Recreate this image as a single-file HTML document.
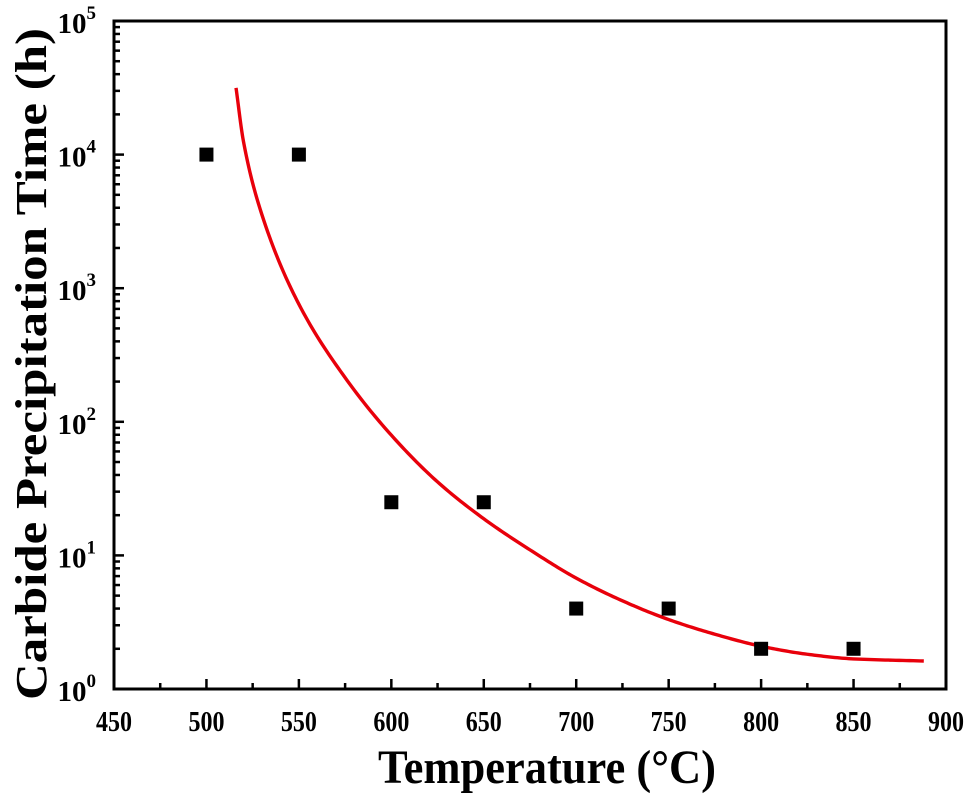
<!DOCTYPE html>
<html><head><meta charset="utf-8"><style>
html,body{margin:0;padding:0;background:#fff;}
svg{display:block;font-family:"Liberation Serif",serif;font-weight:bold;}
</style></head><body>
<svg id="chart" width="974" height="795" viewBox="0 0 974 795"></svg>
<script>
const xTicks=[450,500,550,600,650,700,750,800,850,900];
const yDecades=[0,1,2,3,4,5];
const pointT=[500,550,600,650,700,750,800,850];
const pointH=[10000,10000,25,25,4,4,2,2];
const fitT=[516,520,530,550,575,600,625,650,675,700,725,750,775,800,825,850,888];
const fitH=[31600,12600,3550,759,214,79.4,35.5,18.8,11.0,6.76,4.57,3.31,2.57,2.09,1.82,1.68,1.62];

const L=114,R=946,T=21,B=689;
const X=v=>L+(v-450)/450*(R-L);
const Y=v=>B-(Math.log10(v))/5*(B-T);
const NS="http://www.w3.org/2000/svg";
const svg=document.getElementById('chart');
function mk(tag,attrs,parent){const e=document.createElementNS(NS,tag);for(const k in attrs)e.setAttribute(k,attrs[k]);(parent||svg).appendChild(e);return e;}

for(let i=0;i<xTicks.length;i++){
  const v=xTicks[i];
  const t=mk('line',{x1:X(v),x2:X(v),y1:B,y2:B-10,stroke:'#000','stroke-width':2.5});
  
  
  if(i<xTicks.length-1){
    const m=mk('line',{x1:X(v+25),x2:X(v+25),y1:B,y2:B-6,stroke:'#000','stroke-width':2.5});
    
    
  }
  const lb=mk('text',{x:X(v),y:731,'text-anchor':'middle','font-size':29,fill:'#000',textLength:36,lengthAdjust:'spacingAndGlyphs'});
  lb.textContent=v;
  
  
}
for(const d of yDecades){
  const t=mk('line',{x1:L,x2:L+10,y1:Y(Math.pow(10,d)),y2:Y(Math.pow(10,d)),stroke:'#000','stroke-width':2.5});
  
  
  if(d<5){for(let k=2;k<=9;k++){
    const yy=Y(k*Math.pow(10,d));
    const m=mk('line',{x1:L,x2:L+6,y1:yy,y2:yy,stroke:'#000','stroke-width':2.5});
    
    
  }}
  const lb=mk('text',{x:96,y:Y(Math.pow(10,d))+12,'text-anchor':'end','font-size':29,fill:'#000'});
  lb.textContent='10';
  const sp=mk('tspan',{dy:-14,'font-size':19},lb);sp.textContent=d;
  
  
}
const fr=mk('rect',{x:L,y:T,width:R-L,height:B-T,fill:'none',stroke:'#000','stroke-width':3});



// monotone cubic interpolation in (T, log10 H)
const lg=fitH.map(Math.log10);
const n=fitT.length;
const dk=[],m=[];
for(let i=0;i<n-1;i++)dk.push((lg[i+1]-lg[i])/(fitT[i+1]-fitT[i]));
m[0]=dk[0];m[n-1]=dk[n-2];
for(let i=1;i<n-1;i++){
  const h0=fitT[i]-fitT[i-1],h1=fitT[i+1]-fitT[i];
  const w1=2*h1+h0,w2=h1+2*h0;
  m[i]=(dk[i-1]*dk[i]<=0)?0:(w1+w2)/(w1/dk[i-1]+w2/dk[i]);
}
let d='';
for(let i=0;i<n-1;i++){
  const h=fitT[i+1]-fitT[i];
  for(let s=0;s<=20;s++){
    if(i>0&&s===0)continue;
    const t=s/20,t2=t*t,t3=t2*t;
    const v=(2*t3-3*t2+1)*lg[i]+(t3-2*t2+t)*h*m[i]+(-2*t3+3*t2)*lg[i+1]+(t3-t2)*h*m[i+1];
    const px=X(fitT[i]+t*h),py=Y(Math.pow(10,v));
    d+=(d?' L':'M')+px.toFixed(2)+','+py.toFixed(2);
  }
}
const cv=mk('path',{d:d,fill:'none',stroke:'#e8000b','stroke-width':3.4,'stroke-linejoin':'round'});



for(let i=0;i<pointT.length;i++){
  const s=mk('rect',{x:X(pointT[i])-7,y:Y(pointH[i])-7,width:14,height:14,fill:'#000'});
  
  
}

const xt=mk('text',{x:547,y:783,'text-anchor':'middle','font-size':48,fill:'#000',textLength:338,lengthAdjust:'spacingAndGlyphs'});
xt.textContent='Temperature (°C)';


const yt=mk('text',{x:0,y:0,'text-anchor':'middle','font-size':44,fill:'#000',textLength:672,lengthAdjust:'spacingAndGlyphs',transform:'translate(46,364) rotate(-90)'});
yt.textContent='Carbide Precipitation Time (h)';


</script>
</body></html>
